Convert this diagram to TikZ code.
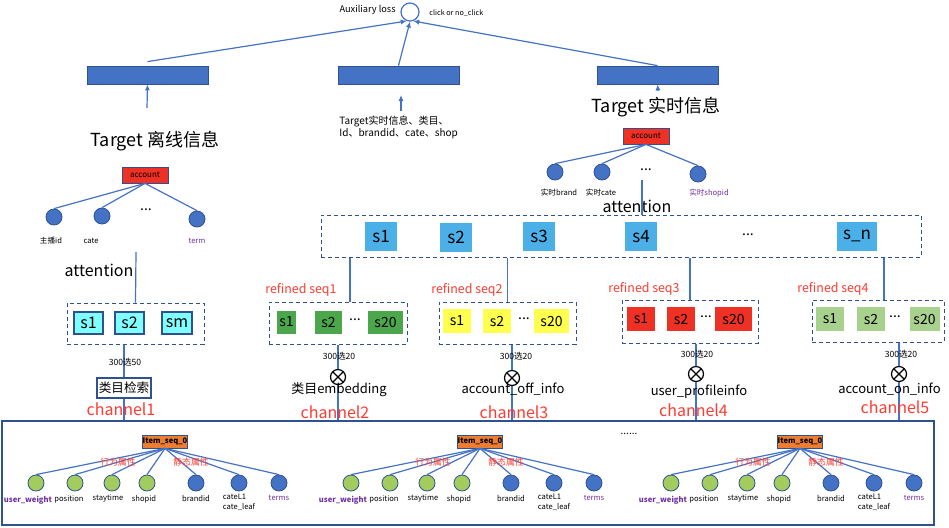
\documentclass[tikz,border=0pt]{standalone}
\usepackage{fontspec}
\setmainfont{Noto Sans CJK SC}
\usetikzlibrary{arrows.meta}

\definecolor{pptblue}{HTML}{4472C4}
\definecolor{pptdark}{HTML}{2F528F}
\definecolor{skyblue}{HTML}{4BAFE8}
\definecolor{cyanbox}{HTML}{7FFFFF}
\definecolor{seqgreen}{HTML}{4CA64C}
\definecolor{seqyellow}{HTML}{FFFF4D}
\definecolor{seqred}{HTML}{EE3124}
\definecolor{seqlime}{HTML}{A9D18E}
\definecolor{attrgreen}{HTML}{A3CC5F}
\definecolor{itemorange}{HTML}{ED7D31}
\definecolor{labelred}{HTML}{FF3B30}
\definecolor{labelpurple}{HTML}{7030A0}

\newcommand{\txtsize}[1]{\fontsize{#1}{#1}\selectfont}

\begin{document}
\begin{tikzpicture}[x=0.5pt,y=-0.5pt,
  link/.style={draw=pptblue,line width=0.6pt},
  arrowlink/.style={link,-{Latex[length=3pt,width=2.6pt]}},
  bar/.style={draw=pptdark,fill=pptblue,minimum width=60.5pt,minimum height=9pt,inner sep=0pt},
  acct/.style={draw=pptdark,fill=seqred,minimum width=23pt,minimum height=8pt,inner sep=0pt,font=\txtsize{4}},
  item/.style={draw=pptdark,fill=itemorange,minimum width=22.5pt,minimum height=6.5pt,inner sep=0pt,font=\bfseries\txtsize{3.8}},
  dot/.style={circle,draw=pptdark,fill=pptblue,minimum size=8pt,inner sep=0pt},
  gdot/.style={dot,fill=attrgreen},
  tiny/.style={font=\txtsize{3.8},inner sep=0.5pt},
  dashbox/.style={draw=pptdark,dash pattern=on 2pt off 1.5pt,line width=0.5pt,inner sep=0pt},
  poolsq/.style={fill=skyblue,minimum width=16pt,minimum height=14.5pt,inner sep=0pt,font=\txtsize{8.5}},
  seqsq/.style={minimum width=14pt,minimum height=12pt,inner sep=0pt,font=\txtsize{7}},
  chan/.style={text=labelred,font=\txtsize{8}},
  refined/.style={text=labelred,font=\txtsize{6.2}},
  pick/.style={font=\txtsize{4.3},inner sep=0.5pt},
  feat/.style={font=\txtsize{6.5},inner sep=0.5pt},
  otimes/.style={circle,draw=black,fill=white,line width=0.6pt,minimum size=7.5pt,inner sep=0pt,
    path picture={\draw[line width=0.6pt] (path picture bounding box.north west) -- (path picture bounding box.south east)
      (path picture bounding box.north east) -- (path picture bounding box.south west);}},
]
\useasboundingbox (0,0) rectangle (949,527);

% Loss on top
\node[circle,draw=pptblue,line width=0.6pt,minimum size=9pt,inner sep=0pt] (loss) at (410,12) {};
\node[anchor=east,font=\txtsize{4.6},inner sep=1pt] (auxlabel) at (398,10) {Auxiliary loss};
\node[anchor=west,font=\txtsize{3.6},inner sep=1pt] (clicklabel) at (427,13) {click or no\_click};

% Towers
\node[bar] (offbar) at (147.5,75) {};
\node[bar] (midbar) at (398.5,75) {};
\node[bar] (rtbar) at (657.5,75) {};
\draw[arrowlink] ([yshift=2pt]offbar.north) -- (loss.250);
\draw[arrowlink] (midbar.north) -- (loss.south);
\draw[arrowlink] (rtbar.north) -- (loss.290);

\coordinate (offin) at (147,108);
\coordinate (midin) at (401,111);
\coordinate (midtip) at (401,95);
\coordinate (rtin) at (658,91);
\draw[arrowlink] (offin) -- (offbar.south);
\draw[arrowlink] (midin) -- (midtip);
\draw[arrowlink] (rtin) -- (rtbar.south);

\node[font=\txtsize{9}] (offtitle) at (155,141) {Target 离线信息};
\node[anchor=north west,align=left,font=\fontsize{5}{6}\selectfont,inner sep=0pt] (midtitle) at (339,116)
  {Target实时信息、类目、\\Id、brandid、cate、shop};
\node[font=\txtsize{9}] (rttitle) at (656,107) {Target 实时信息};

% Offline account tree
\node[acct] (acctoff) at (145,175) {account};
\node[dot] (offa) at (54,217) {};
\node[dot] (offb) at (102,216) {};
\node[dot] (offc) at (197,219) {};
\node[font=\txtsize{7}] (offdots) at (146,210) {...};
\draw[link] (acctoff.south) -- (offa.north);
\draw[link] (acctoff.south) -- (offb.north);
\draw[link] (acctoff.south) -- (offc.north);
\node[tiny] (offal) at (51,241) {主播id};
\node[tiny] (offbl) at (91,241) {cate};
\node[tiny,text=labelpurple] (offcl) at (197,241) {term};

% Realtime account tree
\node[acct] (acctrt) at (646,136) {account};
\node[dot] (rta) at (555,172) {};
\node[dot] (rtb) at (602,172) {};
\node[dot] (rtc) at (698,174) {};
\node[font=\txtsize{7}] (rtdots) at (646,170) {...};
\draw[link] (acctrt.south) -- (rta.north);
\draw[link] (acctrt.south) -- (rtb.north);
\draw[link] (acctrt.south) -- (rtc.north);
\node[tiny] (rtal) at (559,193) {实时brand};
\node[tiny] (rtbl) at (601,193) {实时cate};
\node[tiny,text=labelpurple] (rtcl) at (709,193) {实时shopid};

% Frame for the item sequences
\node[draw=pptdark,line width=0.8pt,minimum width=466pt,minimum height=52pt,inner sep=0pt] (frame) at (468,473) {};

% Channel 1
\node[font=\txtsize{8}] (attoff) at (99,270) {attention};
\coordinate (attofftop) at (136,252);
\node[dashbox,minimum width=68.5pt,minimum height=20.5pt] (cyanpool) at (135.5,323.5) {};
\draw[link] (attofftop) -- (cyanpool.north);
\node[seqsq,draw=pptdark,line width=0.6pt,fill=cyanbox,minimum width=14.5pt,minimum height=11pt,font=\txtsize{8}] (cs1) at (88.5,323) {s1};
\node[seqsq,draw=pptdark,line width=0.6pt,fill=cyanbox,minimum width=14.5pt,minimum height=11pt,font=\txtsize{8}] (cs2) at (129.5,323) {s2};
\node[seqsq,draw=pptdark,line width=0.6pt,fill=cyanbox,minimum width=15pt,minimum height=11pt,font=\txtsize{8}] (csm) at (177,323) {sm};
\node[draw=pptdark,line width=0.6pt,minimum width=27pt,minimum height=10pt,inner sep=0pt,font=\txtsize{6.3}] (search) at (124,388) {类目检索};
\draw[link] ([xshift=-5.75pt]cyanpool.south) -- (search.north);
\draw[link] (search.south) -- (search.south |- frame.north);
\node[pick] (pick1) at (125,362) {300选50};
\node[chan] (chan1) at (121,409) {channel1};

% Realtime attention pool
\node[font=\txtsize{8}] (attrt) at (637,206) {attention};
\coordinate (attrttop) at (642,180);
\node[dashbox,minimum width=300pt,minimum height=21pt] (pool) at (621,236) {};
\draw[link] (attrttop) -- (pool.north -| attrttop);
\node[poolsq] (ps1) at (381,236.5) {s1};
\node[poolsq] (ps2) at (456,237.5) {s2};
\node[poolsq] (ps3) at (539,236) {s3};
\node[poolsq] (ps4) at (641,236.5) {s4};
\node[font=\txtsize{7}] (psdots) at (748,235) {...};
\node[poolsq,minimum width=20pt] (psn) at (857,236) {s\_n};

% Refined sequences
\node[dashbox,minimum width=69pt,minimum height=21pt] (seqa) at (338,323) {};
\node[seqsq,fill=seqgreen,minimum width=9.5pt,minimum height=11.5pt] (ga) at (286.5,322) {s1};
\node[seqsq,fill=seqgreen,minimum width=13.5pt,minimum height=11.5pt] (gb) at (328.5,322) {s2};
\node[font=\txtsize{7}] (gdots) at (355,320) {...};
\node[seqsq,fill=seqgreen,minimum width=17.5pt,minimum height=11.5pt] (gn) at (385.5,322) {s20};
\node[refined] (refa) at (301,290) {refined seq1};

\node[dashbox,minimum width=68.5pt,minimum height=21pt] (seqb) at (507.5,323) {};
\node[seqsq,fill=seqyellow] (ya) at (457,321) {s1};
\node[seqsq,fill=seqyellow] (yb) at (497,321) {s2};
\node[font=\txtsize{7}] (ydots) at (524,319) {...};
\node[seqsq,fill=seqyellow,minimum width=17.5pt] (yn) at (551.5,321) {s20};
\node[refined] (refb) at (467,290) {refined seq2};

\node[dashbox,minimum width=68pt,minimum height=21.5pt] (seqc) at (690,321.5) {};
\node[seqsq,fill=seqred] (ra) at (641,319) {s1};
\node[seqsq,fill=seqred] (rb) at (681,319) {s2};
\node[font=\txtsize{7}] (rdots) at (706,317) {...};
\node[seqsq,fill=seqred,minimum width=18.5pt] (rn) at (733.5,319) {s20};
\node[refined] (refc) at (644,289) {refined seq3};

\node[dashbox,minimum width=66pt,minimum height=21pt] (seqd) at (878,321) {};
\node[seqsq,fill=seqlime] (la) at (830,319) {s1};
\node[seqsq,fill=seqlime] (lb) at (871,319) {s2};
\node[font=\txtsize{7}] (ldots) at (895,317) {...};
\node[seqsq,fill=seqlime,minimum width=15pt] (ln) at (924.5,319) {s20};
\node[refined] (refd) at (833,289) {refined seq4};

\draw[link] ([xshift=6pt]seqa.north) -- ([xshift=6pt]seqa.north |- pool.south);
\draw[link] (seqb.north) -- (seqb.north |- pool.south);
\draw[link] (seqc.north) -- (seqc.north |- pool.south);
\draw[link] ([xshift=3pt]seqd.north) -- ([xshift=3pt]seqd.north |- pool.south);

% Channels 2-5
\node[otimes] (ox2) at (338,377) {};
\node[otimes] (ox3) at (512,378) {};
\node[otimes] (ox4) at (696,374) {};
\node[otimes] (ox5) at (899,374) {};
\draw[link] (seqa.south) -- (ox2.north);
\draw[link] ([xshift=2.25pt]seqb.south) -- (ox3.north);
\draw[link] ([xshift=3pt]seqc.south) -- (ox4.north);
\draw[link] ([xshift=10.5pt]seqd.south) -- (ox5.north);
\draw[link] (ox2.south) -- (ox2.south |- frame.north);
\draw[link] (ox3.south) -- (ox3.south |- frame.north);
\draw[link] (ox4.south) -- (ox4.south |- frame.north);
\draw[link] (ox5.south) -- (ox5.south |- frame.north);

\node[pick] (pick2) at (339,356) {300选20};
\node[pick] (pick3) at (516,356) {300选20};
\node[pick] (pick4) at (697,354) {300选20};
\node[pick] (pick5) at (901,354) {300选20};
\node[feat] (feat2) at (339,390) {类目embedding};
\node[feat] (feat3) at (513,389) {account\_off\_info};
\node[feat] (feat4) at (699,392) {user\_profileinfo};
\node[feat] (feat5) at (889.5,389) {account\_on\_info};
\node[chan] (chan2) at (335,412) {channel2};
\node[chan] (chan3) at (514,412) {channel3};
\node[chan] (chan4) at (693.5,410) {channel4};
\node[chan] (chan5) at (895,407) {channel5};

% Item sequence trees
\foreach \s/\k in {0/a,315/b,635/c}{
  \node[item] (item\k) at (165+\s,441.5) {Item\_seq\_0};
  \node[gdot] (uw\k) at (36+\s,483) {};
  \node[gdot] (pos\k) at (75+\s,483) {};
  \node[gdot] (stay\k) at (112+\s,483) {};
  \node[gdot] (shop\k) at (147+\s,483) {};
  \node[dot] (brand\k) at (196+\s,483) {};
  \node[dot] (cate\k) at (239+\s,483) {};
  \node[dot] (terms\k) at (279+\s,483) {};
  \foreach \n in {uw,pos,stay,shop,brand,cate,terms}
    \draw[link] (item\k.south) -- (\n\k.north);
  \node[tiny,text=labelred,font=\txtsize{4.4}] (act\k) at (118+\s,462) {行为属性};
  \node[tiny,text=labelred,font=\txtsize{4.4}] (sta\k) at (191+\s,462) {静态属性};
  \node[tiny,text=labelpurple,font=\bfseries\txtsize{3.8}] (uwl\k) at (28+\s,500) {user\_weight};
  \node[tiny] (posl\k) at (69+\s,499) {position};
  \node[tiny] (stayl\k) at (108+\s,498) {staytime};
  \node[tiny] (shopl\k) at (144+\s,499) {shopid};
  \node[tiny] (brandl\k) at (196+\s,499) {brandid};
  \node[tiny,align=left,font=\fontsize{3.8}{5}\selectfont] (catel\k) at (239+\s,502) {cateL1\\cate\_leaf};
  \node[tiny,text=labelpurple] (termsl\k) at (279+\s,498) {terms};
}
\node[font=\txtsize{5}] (moredots) at (629,434) {......};
\end{tikzpicture}
\end{document}
